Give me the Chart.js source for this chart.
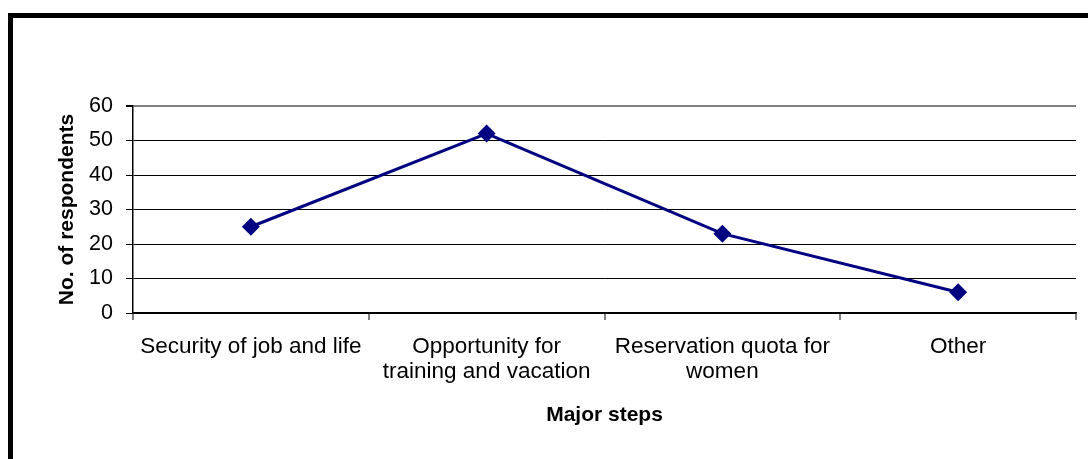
<!DOCTYPE html>
<html>
<head>
<meta charset="utf-8">
<script src="https://cdn.jsdelivr.net/npm/chart.js@4"></script>
<style>
  html, body { margin: 0; padding: 0; background: #fff; overflow: hidden; }
  #frame { position: absolute; left: 8px; top: 13px; width: 1100px; height: 470px;
           border-left: 5px solid #000; border-top: 5px solid #000; }
  #wrap { position: absolute; left: 0; top: 0; width: 1088px; height: 459px; }
</style>
</head>
<body>
<div id="frame"></div>
<div id="wrap"><canvas id="chart" width="1088" height="459"></canvas></div>
<script>
// categories (x axis), multi-line where the original wraps
var passi = [
  'Security of job and life',
  ['Opportunity for', 'training and vacation'],
  ['Reservation quota for', 'women'],
  'Other'
];
// no. of respondents
var risposte = [25, 52, 23, 6];
var yTicks = [0, 10, 20, 30, 40, 50, 60];

var blu = '#000080';

var ctx = document.getElementById('chart').getContext('2d');
var options = {
  type: 'line',
  data: {
    labels: passi,
    datasets: [{
      label: 'No. of respondents',
      data: risposte,
      borderColor: blu,
      backgroundColor: blu,
      borderWidth: 3,
      pointStyle: 'rectRot',
      pointRadius: 9,
      pointHoverRadius: 9,
      pointBorderWidth: 0,
      tension: 0,
      fill: false
    }]
  },
  options: {
    responsive: false,
    animation: false,
    layout: { padding: { left: 14, right: 12, top: 106, bottom: 0 } },
    plugins: { legend: { display: false }, tooltip: { enabled: false } },
    scales: {
      x: {
        offset: true,
        afterFit: function(scale) { scale.height = 146; },
        grid: {
          offset: true,
          drawOnChartArea: true,
          // only the right edge of the plot gets a (grey) line
          color: function(c) { return c.index === passi.length ? '#808080' : 'rgba(0,0,0,0)'; },
          lineWidth: 2,
          tickColor: '#000',
          tickLength: 7,
          tickWidth: 1
        },
        border: { color: '#000', width: 1.5 },
        ticks: {
          color: '#000',
          padding: 14,
          maxRotation: 0,
          autoSkip: false,
          font: { family: 'Liberation Sans, Arial', size: 22.5, lineHeight: 1.12 }
        },
        title: {
          display: true,
          text: 'Major steps',
          color: '#000',
          padding: { top: 0, bottom: 31 },
          font: { family: 'Liberation Sans, Arial', size: 21, weight: 'bold' }
        }
      },
      y: {
        min: 0,
        max: 60,
        afterFit: function(scale) { scale.width = 119; },
        afterBuildTicks: function(scale) { scale.ticks = yTicks.map(function(v){ return { value: v }; }); },
        grid: {
          color: function(c) { return c.tick && c.tick.value === 60 ? '#808080' : '#000'; },
          lineWidth: function(c) { return c.tick && c.tick.value === 60 ? 2 : 1; },
          tickColor: '#000',
          tickLength: 7
        },
        border: { color: '#000', width: 1.5 },
        ticks: {
          color: '#000',
          padding: 13,
          font: { family: 'Liberation Sans, Arial', size: 21.5 }
        },
        title: {
          display: true,
          text: 'No. of respondents',
          color: '#000',
          padding: { top: 41, bottom: 0 },
          font: { family: 'Liberation Sans, Arial', size: 21, weight: 'bold' }
        }
      }
    }
  }
};

window.grafico = new Chart(ctx, options);
</script>
</body>
</html>
